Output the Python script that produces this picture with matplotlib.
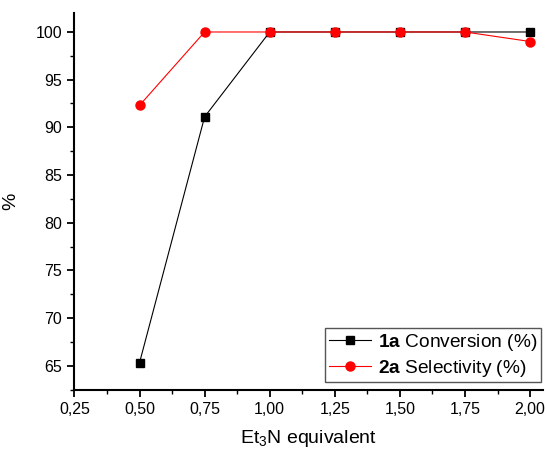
import numpy as np
import matplotlib.pyplot as plt
from matplotlib.ticker import MultipleLocator, FuncFormatter

plt.rcParams['font.family'] = ['Liberation Sans', 'DejaVu Sans']
plt.rcParams['mathtext.fontset'] = 'custom'
plt.rcParams['mathtext.rm'] = 'Liberation Sans'
plt.rcParams['mathtext.bf'] = 'Liberation Sans:bold'

# data
et3n_equiv = [0.50, 0.75, 1.00, 1.25, 1.50, 1.75, 2.00]
conversion = [65.3, 91.1, 100, 100, 100, 100, 100]
selectivity = [92.3, 100, 100, 100, 100, 100, 99.0]

fig = plt.figure(figsize=(5.47, 4.5), dpi=100)
ax = fig.add_axes([0.136, 0.1333, 0.857, 0.838])

ax.plot(et3n_equiv, conversion, color='black', lw=0.8, marker='s', ms=6,
        label=r'$\mathbf{1a}$ Conversion (%)')
ax.plot(et3n_equiv, selectivity, color='red', lw=0.8, marker='o', ms=6.5,
        label=r'$\mathbf{2a}$ Selectivity (%)')

ax.set_xlim(0.25, 2.05)
ax.set_ylim(62.45, 102)
ax.xaxis.set_major_locator(MultipleLocator(0.25))
ax.xaxis.set_minor_locator(MultipleLocator(0.125))
ax.yaxis.set_major_locator(MultipleLocator(5))
ax.yaxis.set_minor_locator(MultipleLocator(2.5))
ax.xaxis.set_major_formatter(FuncFormatter(lambda v, p: f"{v:.2f}".replace('.', ',')))

for s in ['top', 'right']:
    ax.spines[s].set_visible(False)
for s in ['left', 'bottom']:
    ax.spines[s].set_linewidth(1.5)
ax.tick_params(which='major', direction='out', length=4.7, width=1.3, labelsize=11.5, pad=4)
ax.tick_params(which='minor', direction='out', length=3, width=1.0)

ax.set_xlabel(r'Et$_3$N equivalent', fontsize=14, labelpad=8)
ax.set_ylabel('%', fontsize=14, labelpad=12)

leg = ax.legend(loc='lower right', bbox_to_anchor=(1.0, 0.015), fontsize=13.8,
                fancybox=False, framealpha=1, edgecolor='#555555',
                handlelength=2.2, borderpad=0.2, labelspacing=0.25,
                handletextpad=0.35, borderaxespad=0.1)
leg.get_frame().set_linewidth(1.0)

fig.savefig('out.png', dpi=100)
